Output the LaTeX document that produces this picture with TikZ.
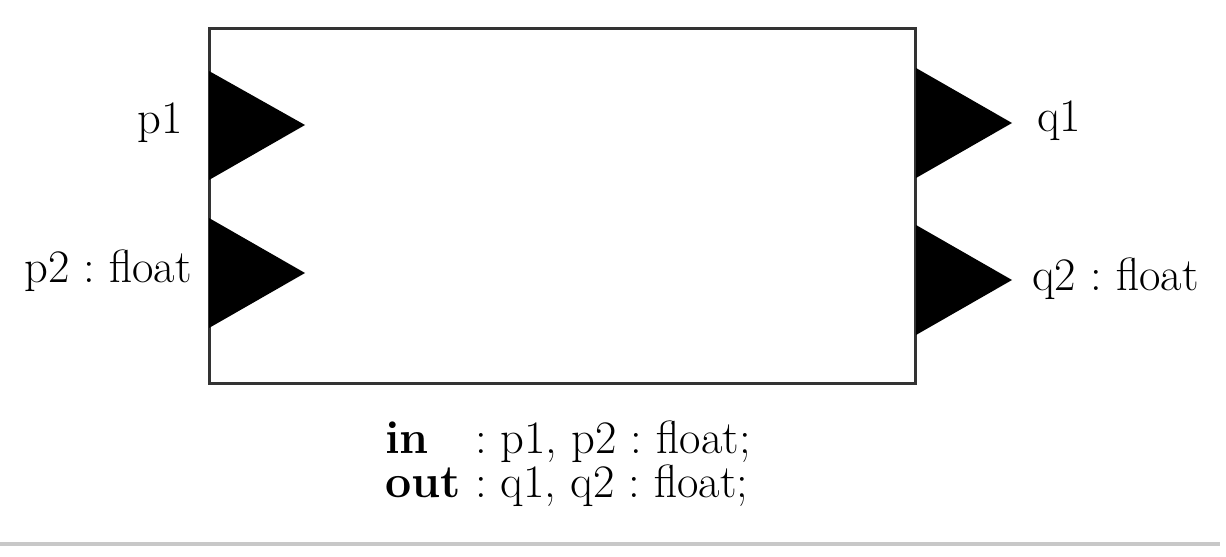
\documentclass[tikz,border=0pt]{standalone}
\usepackage{tikz}
\usetikzlibrary{shapes.geometric}
\definecolor{rulegray}{RGB}{200,200,200}
\tikzstyle{block} = [rectangle, minimum width=14.14cm, minimum height=7.12cm, draw=black!80, line width=0.06cm, inner sep=0pt]
\tikzstyle{port} = [fill=black]
\tikzstyle{lbl} = [inner sep=0pt, font=\fontsize{26.5}{25}\selectfont]
\frenchspacing

\begin{document}
\begin{tikzpicture}[x=0.02cm, y=-0.02cm]
  \useasboundingbox (0,0) rectangle (1226,557);

  \node (blk) [block] at (562.5,206) {};

  % input ports
  \fill [port] (209,71) -- (305,125) -- (209,180) -- cycle;
  \fill [port] (209,218) -- (305,273) -- (209,328) -- cycle;
  % output ports
  \fill [port] (916,68) -- (1012,123) -- (916,178) -- cycle;
  \fill [port] (916,225) -- (1012,280) -- (916,335) -- cycle;

  \node (p1) [lbl, anchor=base east] at (183,134) {p1};
  \node (p2) [lbl, anchor=base east] at (192,282) {p2 : float};
  \node (q1) [lbl, anchor=base west] at (1037,132) {q1};
  \node (q2) [lbl, anchor=base west] at (1032,290) {q2 : float};

  \node (sigin) [lbl, anchor=base west] at (385,453) {\rlap{\bfseries in}\hphantom{\bfseries out} : p1, p2 : float;};
  \node (sigout) [lbl, anchor=base west] at (385,497) {{\bfseries out} : q1, q2 : float;};

  \draw [rulegray, line width=0.08cm] (0,544) -- (1220,544);
\end{tikzpicture}
\end{document}
